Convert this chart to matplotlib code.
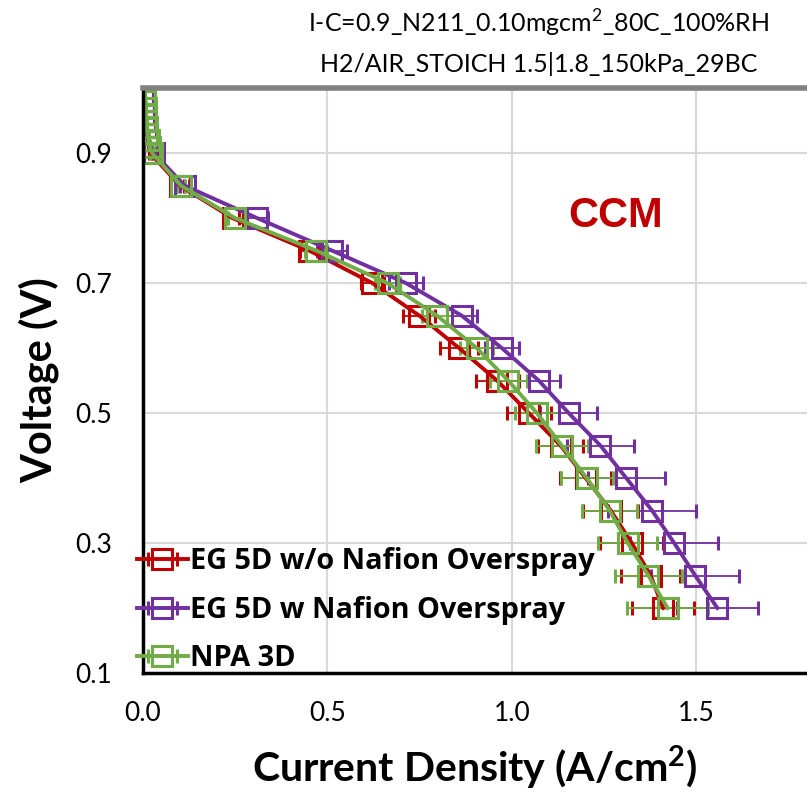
import matplotlib
matplotlib.use("Agg")
import matplotlib.pyplot as plt

plt.rcParams['font.family'] = ['Lato', 'DejaVu Sans']

# voltage steps (V)
voltage = [0.99, 0.98, 0.97, 0.96, 0.95, 0.94, 0.93, 0.92, 0.91, 0.90,
           0.85, 0.80, 0.75, 0.70, 0.65, 0.60, 0.55, 0.50, 0.45, 0.40,
           0.35, 0.30, 0.25, 0.20]

# current density (A/cm2) per sample
eg5d_wo = [0.002, 0.003, 0.004, 0.005, 0.006, 0.008, 0.010, 0.013, 0.016, 0.020,
           0.100, 0.243, 0.451, 0.622, 0.749, 0.857, 0.960, 1.046, 1.132, 1.200,
           1.268, 1.325, 1.376, 1.410]
eg5d_w = [0.001, 0.002, 0.003, 0.004, 0.006, 0.008, 0.011, 0.014, 0.018, 0.030,
          0.113, 0.310, 0.513, 0.713, 0.864, 0.973, 1.073, 1.154, 1.240, 1.310,
          1.380, 1.440, 1.497, 1.557]
npa3d = [0.005, 0.006, 0.007, 0.008, 0.009, 0.010, 0.012, 0.015, 0.018, 0.025,
         0.103, 0.250, 0.470, 0.663, 0.797, 0.905, 0.990, 1.068, 1.135, 1.203,
         1.265, 1.314, 1.370, 1.422]

# horizontal error bars
err_wo = [0.0, 0.0, 0.0, 0.0, 0.0, 0.0, 0.0, 0.0, 0.0, 0.005,
          0.010, 0.018, 0.025, 0.030, 0.043, 0.052, 0.058, 0.060, 0.060, 0.070,
          0.075, 0.085, 0.080, 0.085]
err_w = [0.0, 0.0, 0.0, 0.0, 0.0, 0.0, 0.0, 0.0, 0.0, 0.005,
         0.012, 0.028, 0.040, 0.045, 0.041, 0.046, 0.057, 0.078, 0.090, 0.105,
         0.120, 0.120, 0.120, 0.110]
err_npa = [0.0, 0.0, 0.0, 0.0, 0.0, 0.0, 0.0, 0.0, 0.0, 0.005,
           0.010, 0.020, 0.030, 0.035, 0.040, 0.045, 0.050, 0.060, 0.070, 0.070,
           0.075, 0.080, 0.090, 0.110]

series = [
    ("EG 5D w/o Nafion Overspray", eg5d_wo, err_wo, "#C00000"),
    ("EG 5D w Nafion Overspray", eg5d_w, err_w, "#7030A0"),
    ("NPA 3D", npa3d, err_npa, "#70AD47"),
]

fig = plt.figure(figsize=(8.07, 7.95), dpi=100)
ax = fig.add_axes([0.1772, 0.1535, 0.8228, 0.7355])

for name, cd, err, col in series:
    ax.errorbar(cd, voltage, xerr=err, color=col, lw=2.8, marker="s", ms=15,
                mfc="none", mec=col, mew=2.2, ecolor=col, elinewidth=1.3,
                capsize=5, capthick=1.3, label=name)

ax.set_xlim(0, 1.8)
ax.set_ylim(0.1, 1.0)
ax.set_xticks([0.0, 0.5, 1.0, 1.5])
ax.set_yticks([0.1, 0.3, 0.5, 0.7, 0.9])
ax.xaxis.set_major_formatter(matplotlib.ticker.FormatStrFormatter('%.1f'))
ax.yaxis.set_major_formatter(matplotlib.ticker.FormatStrFormatter('%.1f'))
ax.tick_params(labelsize=19, length=0)
ax.tick_params(axis='x', pad=20)
ax.tick_params(axis='y', pad=22)
ax.grid(True, color="#D9D9D9", lw=1.5)
ax.set_axisbelow(True)

ax.spines['top'].set_color("#808080")
ax.spines['top'].set_linewidth(4)
ax.spines['right'].set_visible(False)
ax.spines['left'].set_linewidth(2.5)
ax.spines['bottom'].set_linewidth(2.5)

ax.set_xlabel("Current Density (A/cm$^\\mathregular{2}$)", fontsize=29.5, fontweight="bold", labelpad=13)
ax.set_ylabel("Voltage (V)", fontsize=30, fontweight="bold", labelpad=12)

ax.text(0.712, 0.781, "CCM", transform=ax.transAxes, color="#C00000", fontsize=30,
        fontweight="bold", family="Liberation Sans", ha="center", va="center")

fig.text(0.667, 0.99, "I-C=0.9_N211_0.10mgcm$^\\mathregular{2}$_80C_100%RH\nH2/AIR_STOICH 1.5|1.8_150kPa_29BC",
         fontsize=18, linespacing=1.62, ha="center", va="top")

leg = ax.legend(loc="lower left", frameon=False,
                prop={'family': 'Open Sans', 'weight': 'bold', 'size': 20.8},
                handlelength=1.75, handletextpad=0.1, labelspacing=0.67,
                borderpad=0.0, borderaxespad=0.0, bbox_to_anchor=(-0.009, 0.0))

fig.savefig("out.png", dpi=100)
